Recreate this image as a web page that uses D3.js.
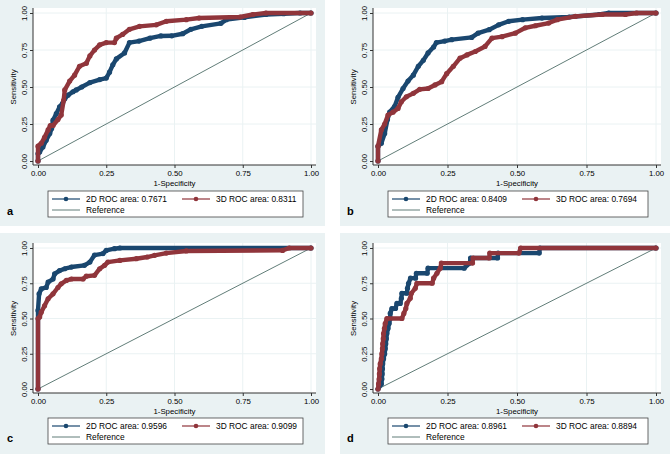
<!DOCTYPE html>
<html>
<head>
<meta charset="utf-8">
<script src="https://cdn.jsdelivr.net/npm/d3@7"></script>
<style>
  body { margin: 0; background: #fff; }
  text { font-family: "Liberation Sans", Arial, sans-serif; }
</style>
</head>
<body>
<svg id="chart" width="670" height="454"></svg>
<script>
// panel labels and AUC values
const panelLetters = ["a", "b", "c", "d"];
const auc2d = ["0.7671", "0.8409", "0.9596", "0.8961"];
const auc3d = ["0.8311", "0.7694", "0.9099", "0.8894"];
const tickValues = [0, 0.25, 0.5, 0.75, 1];

// ROC points [1-specificity, sensitivity]
const roc2dA = [[0,0],[0,0.05],[0.006,0.06],[0.018,0.095],[0.03,0.14],[0.043,0.185],[0.05,0.22],[0.055,0.276],[0.067,0.32],[0.079,0.366],[0.09,0.39],[0.098,0.42],[0.11,0.445],[0.128,0.468],[0.14,0.48],[0.16,0.5],[0.19,0.53],[0.226,0.55],[0.25,0.56],[0.262,0.6],[0.274,0.65],[0.287,0.69],[0.317,0.73],[0.335,0.8],[0.37,0.81],[0.41,0.83],[0.45,0.845],[0.49,0.846],[0.53,0.86],[0.56,0.89],[0.6,0.91],[0.67,0.93],[0.69,0.955],[0.756,0.97],[0.835,0.99],[0.9,0.995],[0.96,1],[1,1]];
const roc3dA = [[0,0],[0,0.1],[0.012,0.12],[0.024,0.16],[0.037,0.21],[0.045,0.24],[0.055,0.24],[0.073,0.28],[0.085,0.31],[0.094,0.41],[0.098,0.48],[0.116,0.54],[0.134,0.58],[0.152,0.64],[0.177,0.66],[0.19,0.71],[0.207,0.75],[0.226,0.785],[0.25,0.8],[0.28,0.8],[0.287,0.83],[0.31,0.855],[0.335,0.89],[0.372,0.91],[0.433,0.92],[0.47,0.944],[0.543,0.955],[0.59,0.966],[0.74,0.973],[0.787,0.99],[0.835,1],[1,1]];

const roc2dB = [[0,0],[0,0.1],[0.012,0.12],[0.024,0.185],[0.034,0.28],[0.042,0.33],[0.06,0.37],[0.072,0.43],[0.09,0.49],[0.108,0.54],[0.127,0.58],[0.145,0.64],[0.163,0.68],[0.18,0.73],[0.2,0.77],[0.21,0.8],[0.24,0.81],[0.265,0.82],[0.337,0.835],[0.36,0.864],[0.4,0.887],[0.434,0.92],[0.47,0.944],[0.52,0.955],[0.59,0.966],[0.687,0.973],[0.795,0.99],[0.83,1],[1,1]];
const roc3dB = [[0,0],[0,0.1],[0.012,0.21],[0.024,0.25],[0.036,0.31],[0.054,0.33],[0.072,0.355],[0.084,0.4],[0.102,0.434],[0.127,0.457],[0.15,0.484],[0.18,0.49],[0.205,0.514],[0.229,0.536],[0.247,0.59],[0.271,0.64],[0.295,0.695],[0.32,0.717],[0.35,0.74],[0.385,0.774],[0.41,0.83],[0.446,0.84],[0.494,0.864],[0.53,0.9],[0.566,0.914],[0.614,0.932],[0.645,0.955],[0.71,0.977],[0.807,0.99],[0.89,0.99],[0.93,1],[1,1]];

const roc2dC = [[0,0],[0,0.557],[0.004,0.675],[0.012,0.71],[0.03,0.72],[0.037,0.758],[0.055,0.78],[0.061,0.817],[0.079,0.84],[0.098,0.853],[0.122,0.865],[0.17,0.877],[0.19,0.9],[0.207,0.95],[0.238,0.96],[0.25,0.983],[0.28,0.995],[0.3,1],[1,1]];
const roc3dC = [[0,0],[0,0.5],[0.006,0.51],[0.012,0.545],[0.024,0.59],[0.037,0.64],[0.055,0.675],[0.073,0.72],[0.085,0.746],[0.104,0.77],[0.122,0.78],[0.165,0.78],[0.177,0.8],[0.207,0.806],[0.226,0.853],[0.244,0.877],[0.256,0.9],[0.3,0.912],[0.36,0.924],[0.4,0.936],[0.427,0.948],[0.47,0.964],[0.543,0.979],[0.896,0.983],[0.92,1],[1,1]];

const roc2dD = [[0,0],[0.012,0.036],[0.014,0.071],[0.015,0.107],[0.016,0.143],[0.017,0.179],[0.02,0.214],[0.024,0.25],[0.026,0.286],[0.028,0.321],[0.03,0.357],[0.032,0.393],[0.036,0.429],[0.04,0.464],[0.044,0.5],[0.044,0.536],[0.05,0.571],[0.063,0.571],[0.068,0.607],[0.08,0.607],[0.084,0.643],[0.086,0.679],[0.104,0.679],[0.106,0.714],[0.11,0.75],[0.117,0.786],[0.135,0.786],[0.138,0.821],[0.177,0.821],[0.18,0.857],[0.31,0.857],[0.33,0.893],[0.333,0.929],[0.43,0.929],[0.432,0.964],[0.58,0.964],[0.582,1],[1,1]];
const roc3dD = [[0,0],[0.002,0.036],[0.004,0.071],[0.005,0.107],[0.006,0.143],[0.008,0.179],[0.012,0.214],[0.014,0.25],[0.016,0.286],[0.017,0.321],[0.019,0.357],[0.02,0.393],[0.023,0.429],[0.026,0.464],[0.032,0.5],[0.086,0.5],[0.093,0.536],[0.1,0.571],[0.104,0.607],[0.116,0.643],[0.12,0.679],[0.134,0.714],[0.14,0.75],[0.195,0.75],[0.2,0.786],[0.212,0.821],[0.224,0.857],[0.228,0.893],[0.34,0.893],[0.342,0.929],[0.4,0.929],[0.402,0.964],[0.507,0.964],[0.513,1],[1,1]];

const curves2d = [roc2dA, roc2dB, roc2dC, roc2dD];
const curves3d = [roc3dA, roc3dB, roc3dC, roc3dD];

const BLUE = "#1a476f";
const RED = "#90353b";
const REF = "#4f6e69";
const BG = "#eaf2f3";

// panel placement (pixels)
const layout = [
  { x: 0,   y: 0,   w: 325, h: 226, top: 13, bottom: 161, legend: 191 },
  { x: 340, y: 0,   w: 330, h: 226, top: 13, bottom: 161, legend: 191 },
  { x: 0,   y: 233, w: 325, h: 221, top: 15, bottom: 156, legend: 185 },
  { x: 340, y: 233, w: 330, h: 221, top: 15, bottom: 156, legend: 185 }
];

const svg = d3.select("#chart");
const fmt = d3.format(".2f");

function drawCurve(g, pts, color, x, y) {
  const line = d3.line().x(d => x(d[0])).y(d => y(d[1]));
  g.append("path")
    .datum(pts)
    .attr("d", line)
    .attr("fill", "none")
    .attr("stroke", color)
    .attr("stroke-width", 4.4)
    .attr("stroke-linejoin", "round")
    .attr("stroke-linecap", "round");
  g.selectAll(null)
    .data(pts)
    .enter()
    .append("circle")
    .attr("cx", d => x(d[0]))
    .attr("cy", d => y(d[1]))
    .attr("r", 2.6)
    .attr("fill", color);
}

layout.forEach((p, i) => {
  const g = svg.append("g").attr("transform", `translate(${p.x},${p.y})`);
  g.append("rect").attr("width", p.w).attr("height", p.h).attr("fill", BG);

  const x = d3.scaleLinear().domain([0, 1]).range([38, p.w - 14]);
  const y = d3.scaleLinear().domain([0, 1]).range([p.bottom, p.top]);
  const left = 33, right = p.w - 9, top = p.top - 5, base = p.bottom + 4;

  // plot region
  g.append("rect")
    .attr("x", left).attr("y", top)
    .attr("width", right - left).attr("height", base - top)
    .attr("fill", "#fff");

  // grid lines
  g.selectAll(null).data(tickValues.slice(1)).enter().append("line")
    .attr("x1", left).attr("x2", right)
    .attr("y1", d => y(d)).attr("y2", d => y(d))
    .attr("stroke", BG).attr("stroke-width", 1);
  g.selectAll(null).data(tickValues.slice(1)).enter().append("line")
    .attr("y1", top).attr("y2", base)
    .attr("x1", d => x(d)).attr("x2", d => x(d))
    .attr("stroke", BG).attr("stroke-width", 1);

  // axes
  const yAxis = g.append("g").attr("transform", `translate(${left},0)`)
    .call(d3.axisLeft(y).tickValues(tickValues).tickFormat(fmt).tickSize(3).tickPadding(2));
  yAxis.select(".domain").remove();
  yAxis.selectAll("line").attr("stroke", "#333");
  yAxis.selectAll(".tick text")
    .attr("font-size", 7.8).attr("fill", "#000")
    .attr("text-anchor", "middle")
    .attr("x", 0).attr("y", 0).attr("dy", 0)
    .attr("transform", "translate(-6,0) rotate(-90)");

  const xAxis = g.append("g").attr("transform", `translate(0,${base})`)
    .call(d3.axisBottom(x).tickValues(tickValues).tickFormat(fmt).tickSize(3).tickPadding(2));
  xAxis.select(".domain").remove();
  xAxis.selectAll("line").attr("stroke", "#333");
  xAxis.selectAll("text").attr("font-size", 7.8).attr("fill", "#000");

  g.append("line").attr("x1", left).attr("x2", left).attr("y1", top).attr("y2", base)
    .attr("stroke", "#333").attr("stroke-width", 1);
  g.append("line").attr("x1", left).attr("x2", right).attr("y1", base).attr("y2", base)
    .attr("stroke", "#333").attr("stroke-width", 1);

  // axis titles
  g.append("text")
    .attr("transform", `translate(16,${(p.top + p.bottom) / 2}) rotate(-90)`)
    .attr("text-anchor", "middle").attr("font-size", 7.8).attr("fill", "#000")
    .text("Sensitivity");
  g.append("text")
    .attr("x", (x(0) + x(1)) / 2).attr("y", p.bottom + 25)
    .attr("text-anchor", "middle").attr("font-size", 7.8).attr("fill", "#000")
    .text("1-Specificity");

  // reference and curves
  g.append("line")
    .attr("x1", x(0)).attr("y1", y(0)).attr("x2", x(1)).attr("y2", y(1))
    .attr("stroke", REF).attr("stroke-width", 0.9);
  drawCurve(g, curves2d[i], BLUE, x, y);
  drawCurve(g, curves3d[i], RED, x, y);

  // legend
  const lx = 48, lw = p.w - 70, ly = p.legend;
  const lg = g.append("g").attr("transform", `translate(${lx},${ly})`);
  lg.append("rect").attr("width", lw).attr("height", 26)
    .attr("fill", "#fff").attr("stroke", "#444").attr("stroke-width", 0.8);
  const keys = [
    { kx: 4, ky: 8, color: BLUE, marker: true, label: "2D ROC area: " + auc2d[i] },
    { kx: 134, ky: 8, color: RED, marker: true, label: "3D ROC area: " + auc3d[i] },
    { kx: 4, ky: 19, color: REF, marker: false, label: "Reference" }
  ];
  keys.forEach(k => {
    lg.append("line").attr("x1", k.kx).attr("x2", k.kx + 28)
      .attr("y1", k.ky).attr("y2", k.ky)
      .attr("stroke", k.color).attr("stroke-width", k.marker ? 1.2 : 0.9);
    if (k.marker) {
      lg.append("circle").attr("cx", k.kx + 14).attr("cy", k.ky).attr("r", 2.3).attr("fill", k.color);
    }
    lg.append("text").attr("x", k.kx + 34).attr("y", k.ky + 3)
      .attr("font-size", 8.4).attr("fill", "#000").text(k.label);
  });

  // panel letter
  g.append("text").attr("x", 7).attr("y", p.legend + 24)
    .attr("font-size", 11).attr("font-weight", "bold").attr("fill", "#000")
    .text(panelLetters[i]);
});
</script>
</body>
</html>
